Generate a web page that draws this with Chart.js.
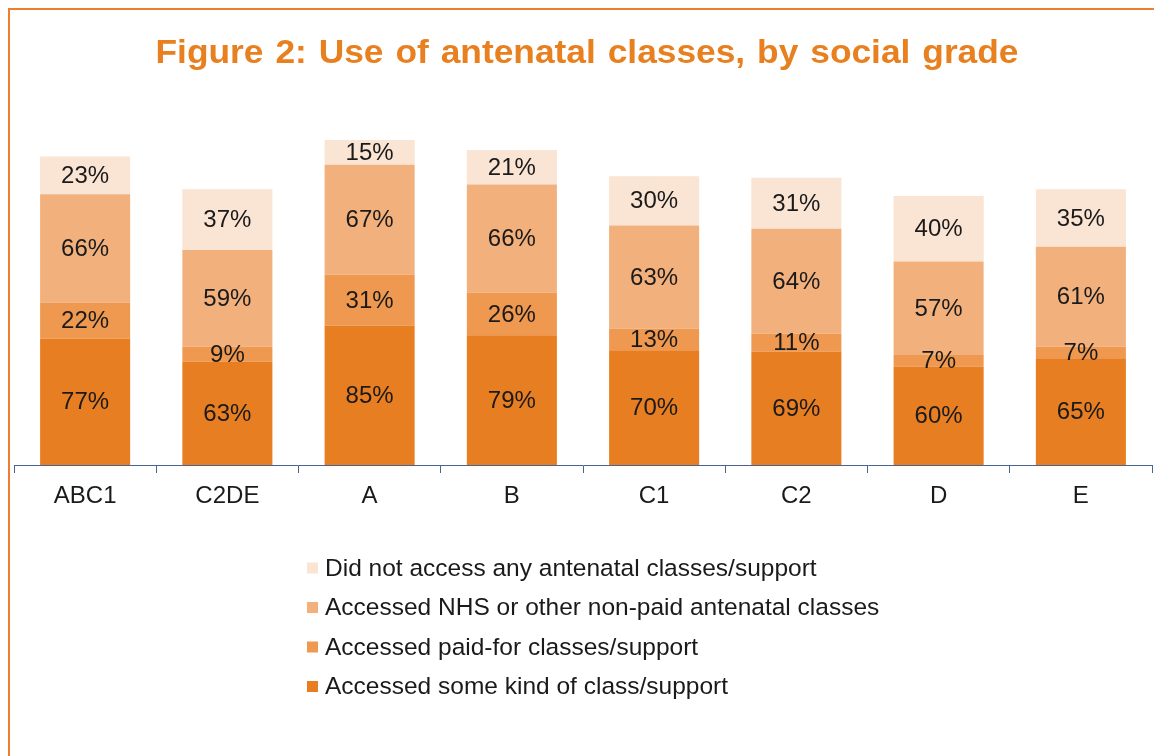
<!DOCTYPE html>
<html>
<head>
<meta charset="utf-8">
<script src="https://cdn.jsdelivr.net/npm/chart.js@4/dist/chart.umd.min.js"></script>
<style>
  body { margin: 0; background: #fff; }
  canvas { display: block; }
</style>
</head>
<body>
<canvas id="chart" width="1154" height="756"></canvas>
<script>
const categories = ["ABC1", "C2DE", "A", "B", "C1", "C2", "D", "E"];
const someKind = [77, 63, 85, 79, 70, 69, 60, 65];
const paidFor = [22, 9, 31, 26, 13, 11, 7, 7];
const nhsClasses = [66, 59, 67, 66, 63, 64, 57, 61];
const noAccess = [23, 37, 15, 21, 30, 31, 40, 35];
const seriesNames = [
  "Accessed some kind of class/support",
  "Accessed paid-for classes/support",
  "Accessed NHS or other non-paid antenatal classes",
  "Did not access any antenatal classes/support"
];
const colours = ["#E87E22", "#EE9850", "#F2B07C", "#FAE4D4"];
const titleText = "Figure 2: Use of antenatal classes, by social grade";

const FONT = '"Liberation Sans", Arial, sans-serif';
const AXIS = "#4A6491";

// draws the frame, the title, the % labels and the legend
const extras = {
  id: "extras",
  beforeDraw(chart) {
    const ctx = chart.ctx;
    ctx.save();
    ctx.strokeStyle = "#ED7D31";
    ctx.lineWidth = 2;
    ctx.beginPath();
    ctx.moveTo(9, 756);
    ctx.lineTo(9, 9);
    ctx.lineTo(1154, 9);
    ctx.stroke();

    // the original title is a little wider than plain Arial bold
    ctx.translate(587, 63);
    ctx.scale(1.07, 1);
    ctx.font = "bold 33px " + FONT;
    ctx.fillStyle = "#E8801F";
    ctx.textAlign = "center";
    ctx.textBaseline = "alphabetic";
    ctx.wordSpacing = "2px";
    ctx.fillText(titleText, 0, 0);
    ctx.restore();
  },
  afterDatasetsDraw(chart) {
    const ctx = chart.ctx;
    ctx.save();
    ctx.font = "24px " + FONT;
    ctx.fillStyle = "#1A1A1A";
    ctx.textAlign = "center";
    ctx.textBaseline = "middle";
    chart.data.datasets.forEach((ds, i) => {
      chart.getDatasetMeta(i).data.forEach((bar, j) => {
        ctx.fillText(ds.data[j] + "%", bar.x, (bar.y + bar.base) / 2 + 1);
      });
    });
    ctx.restore();
  },
  afterDraw(chart) {
    const ctx = chart.ctx;
    const sets = chart.data.datasets.slice().reverse();
    ctx.save();
    ctx.font = "24.5px " + FONT;
    ctx.textBaseline = "middle";
    ctx.textAlign = "left";
    sets.forEach((ds, i) => {
      const y = 568 + i * 39.5;
      ctx.fillStyle = ds.backgroundColor;
      ctx.fillRect(307, y - 5.5, 11, 11);
      ctx.fillStyle = "#1A1A1A";
      ctx.fillText(ds.label, 325, y + 1);
    });
    ctx.restore();
  }
};

new Chart(document.getElementById("chart"), {
  type: "bar",
  data: {
    labels: categories,
    datasets: [someKind, paidFor, nhsClasses, noAccess].map((d, i) => ({
      label: seriesNames[i],
      data: d,
      backgroundColor: colours[i],
      borderWidth: 0,
      barPercentage: 0.633,
      categoryPercentage: 1
    }))
  },
  options: {
    responsive: false,
    animation: false,
    layout: { padding: { top: 104, left: 14, right: 2, bottom: 0 } },
    plugins: {
      legend: { display: false },
      title: { display: false },
      tooltip: { enabled: false }
    },
    scales: {
      x: {
        stacked: true,
        afterFit: (s) => { s.height = 291; },
        border: { color: AXIS, width: 1 },
        grid: { drawOnChartArea: false, drawTicks: true, tickLength: 8, color: AXIS },
        ticks: { color: "#1A1A1A", font: { family: FONT, size: 24 }, padding: 9 }
      },
      y: {
        stacked: true,
        display: false,
        min: 0,
        max: 220
      }
    }
  },
  plugins: [extras]
});
</script>
</body>
</html>
